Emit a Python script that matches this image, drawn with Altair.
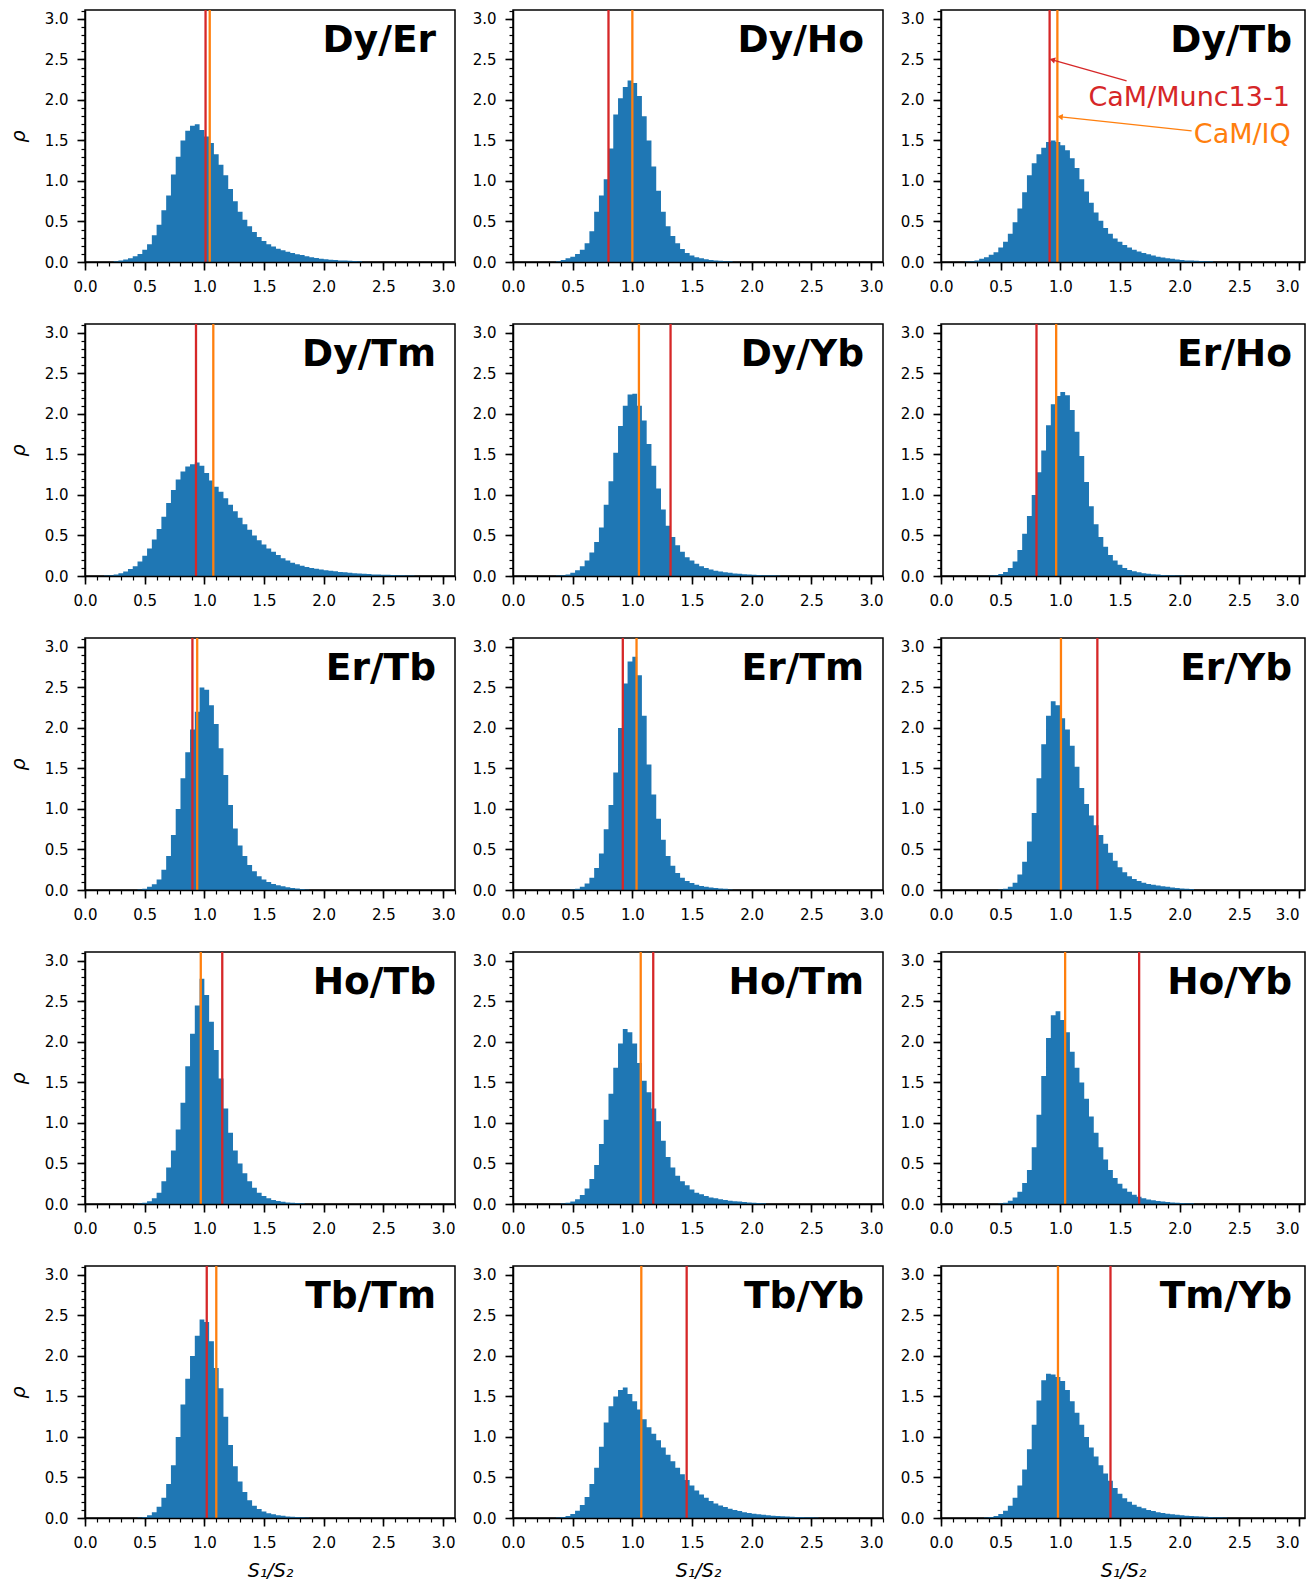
import altair as alt
import pandas as pd

# ---------------- data ----------------
BIN = 0.04
PANEL_NAMES = ["Dy/Er", "Dy/Ho", "Dy/Tb", "Dy/Tm", "Dy/Yb", "Er/Ho", "Er/Tb", "Er/Tm",
               "Er/Yb", "Ho/Tb", "Ho/Tm", "Ho/Yb", "Tb/Tm", "Tb/Yb", "Tm/Yb"]
BIN_STARTS = [0.24, 0.36, 0.20, 0.16, 0.36, 0.40, 0.44, 0.48, 0.48, 0.44, 0.40, 0.48, 0.44, 0.36, 0.36]
RED_LINE = [1.01, 0.80, 0.91, 0.93, 1.32, 0.80, 0.90, 0.92, 1.31, 1.15, 1.175, 1.66, 1.02, 1.455, 1.42]
ORANGE_LINE = [1.045, 1.00, 0.975, 1.075, 1.055, 0.965, 0.94, 1.035, 1.005, 0.97, 1.07, 1.04, 1.10, 1.075, 0.98]

dy_er = [0.01, 0.02, 0.03, 0.045, 0.07, 0.10, 0.15, 0.22, 0.33, 0.46, 0.64, 0.82, 1.08, 1.30, 1.50,
         1.62, 1.68, 1.70, 1.63, 1.55, 1.47, 1.33, 1.20, 1.07, 0.90, 0.75, 0.62, 0.52, 0.44, 0.37,
         0.31, 0.26, 0.22, 0.19, 0.165, 0.145, 0.125, 0.11, 0.095, 0.085, 0.07, 0.06, 0.05, 0.04,
         0.033, 0.028, 0.024, 0.02, 0.017, 0.014, 0.012, 0.01]
dy_ho = [0.01, 0.025, 0.045, 0.065, 0.10, 0.15, 0.23, 0.38, 0.62, 0.82, 1.02, 1.40, 1.82, 2.02,
         2.16, 2.24, 2.21, 2.05, 1.80, 1.50, 1.18, 0.88, 0.62, 0.44, 0.32, 0.23, 0.16, 0.11, 0.08,
         0.06, 0.045, 0.035, 0.025, 0.02, 0.015, 0.01, 0.008]
dy_tb = [0.005, 0.01, 0.02, 0.04, 0.06, 0.09, 0.12, 0.18, 0.25, 0.35, 0.49, 0.66, 0.86, 1.07, 1.22,
         1.33, 1.41, 1.48, 1.50, 1.48, 1.44, 1.38, 1.28, 1.16, 1.02, 0.87, 0.73, 0.61, 0.51, 0.42,
         0.35, 0.29, 0.25, 0.21, 0.18, 0.15, 0.13, 0.11, 0.095, 0.08, 0.065, 0.055, 0.045, 0.04,
         0.03, 0.025, 0.02, 0.017, 0.014, 0.012, 0.01, 0.008]
dy_tm = [0.005, 0.01, 0.02, 0.035, 0.055, 0.085, 0.12, 0.18, 0.25, 0.34, 0.45, 0.58, 0.73, 0.90,
         1.06, 1.19, 1.29, 1.35, 1.38, 1.40, 1.36, 1.27, 1.18, 1.10, 1.04, 0.96, 0.88, 0.80, 0.72,
         0.64, 0.57, 0.50, 0.44, 0.39, 0.34, 0.30, 0.26, 0.22, 0.19, 0.165, 0.145, 0.125, 0.11,
         0.10, 0.09, 0.08, 0.07, 0.065, 0.06, 0.05, 0.045, 0.04, 0.035, 0.03, 0.027, 0.024, 0.02,
         0.018, 0.016, 0.014, 0.012, 0.01, 0.008, 0.007, 0.005]
dy_yb = [0.005, 0.01, 0.02, 0.04, 0.07, 0.12, 0.19, 0.29, 0.42, 0.60, 0.88, 1.17, 1.52, 1.85, 2.10,
         2.24, 2.25, 2.10, 1.92, 1.63, 1.36, 1.08, 0.82, 0.62, 0.48, 0.38, 0.30, 0.23, 0.19, 0.15,
         0.12, 0.10, 0.08, 0.065, 0.055, 0.045, 0.04, 0.032, 0.027, 0.022, 0.018, 0.015, 0.012,
         0.01, 0.009, 0.008, 0.006]
er_ho = [0.005, 0.01, 0.025, 0.05, 0.10, 0.18, 0.32, 0.52, 0.74, 1.00, 1.28, 1.55, 1.86, 2.12,
         2.22, 2.27, 2.23, 2.05, 1.78, 1.48, 1.16, 0.86, 0.64, 0.48, 0.36, 0.26, 0.19, 0.14, 0.10,
         0.075, 0.06, 0.045, 0.035, 0.028, 0.022, 0.017, 0.013, 0.01, 0.008, 0.006, 0.005]
er_tb = [0.005, 0.015, 0.04, 0.07, 0.13, 0.25, 0.42, 0.68, 1.00, 1.38, 1.70, 1.98, 2.20, 2.50,
         2.47, 2.28, 2.05, 1.75, 1.42, 1.05, 0.76, 0.55, 0.42, 0.31, 0.23, 0.17, 0.13, 0.10, 0.075,
         0.06, 0.045, 0.035, 0.025, 0.02, 0.012, 0.006]
er_tm = [0.005, 0.015, 0.04, 0.08, 0.15, 0.27, 0.45, 0.75, 1.05, 1.45, 2.00, 2.55, 2.82, 2.88,
         2.65, 2.15, 1.55, 1.18, 0.88, 0.62, 0.42, 0.30, 0.21, 0.15, 0.11, 0.085, 0.065, 0.05,
         0.04, 0.03, 0.025, 0.02, 0.015, 0.006]
er_yb = [0.005, 0.015, 0.04, 0.09, 0.19, 0.35, 0.60, 0.95, 1.38, 1.80, 2.15, 2.33, 2.28, 2.12,
         1.98, 1.78, 1.52, 1.26, 1.06, 0.92, 0.80, 0.68, 0.57, 0.46, 0.36, 0.28, 0.22, 0.17, 0.135,
         0.11, 0.09, 0.075, 0.065, 0.055, 0.045, 0.04, 0.03, 0.025, 0.02, 0.016, 0.012]
ho_tb = [0.005, 0.015, 0.035, 0.07, 0.14, 0.28, 0.45, 0.66, 0.92, 1.25, 1.70, 2.10, 2.45, 2.78,
         2.58, 2.25, 1.90, 1.55, 1.18, 0.88, 0.66, 0.50, 0.38, 0.28, 0.20, 0.14, 0.10, 0.07, 0.05,
         0.037, 0.028, 0.02, 0.016, 0.012, 0.008]
ho_tm = [0.005, 0.015, 0.03, 0.06, 0.11, 0.19, 0.31, 0.48, 0.74, 1.04, 1.36, 1.68, 1.98, 2.16,
         2.12, 1.98, 1.74, 1.52, 1.38, 1.18, 1.02, 0.78, 0.58, 0.45, 0.35, 0.28, 0.23, 0.18, 0.14,
         0.12, 0.10, 0.08, 0.07, 0.06, 0.05, 0.04, 0.035, 0.03, 0.025, 0.02, 0.016, 0.013, 0.01]
ho_yb = [0.005, 0.015, 0.04, 0.08, 0.15, 0.26, 0.42, 0.70, 1.10, 1.58, 2.05, 2.33, 2.38, 2.27,
         2.12, 1.88, 1.68, 1.50, 1.30, 1.08, 0.88, 0.70, 0.55, 0.42, 0.32, 0.25, 0.19, 0.15, 0.115,
         0.09, 0.07, 0.055, 0.045, 0.037, 0.03, 0.025, 0.02, 0.016, 0.013, 0.01, 0.008]
tb_tm = [0.005, 0.012, 0.035, 0.07, 0.14, 0.25, 0.42, 0.65, 1.00, 1.40, 1.72, 2.00, 2.25, 2.45,
         2.42, 2.18, 1.85, 1.60, 1.25, 0.90, 0.64, 0.45, 0.32, 0.22, 0.15, 0.11, 0.08, 0.06, 0.045,
         0.035, 0.027, 0.02, 0.016, 0.012, 0.009, 0.006]
tb_yb = [0.005, 0.012, 0.025, 0.05, 0.09, 0.16, 0.26, 0.42, 0.62, 0.88, 1.18, 1.38, 1.50, 1.58,
         1.61, 1.53, 1.44, 1.34, 1.22, 1.12, 1.04, 0.96, 0.87, 0.78, 0.70, 0.62, 0.54, 0.47, 0.40,
         0.34, 0.29, 0.25, 0.21, 0.18, 0.155, 0.135, 0.115, 0.10, 0.085, 0.072, 0.062, 0.053,
         0.046, 0.04, 0.034, 0.029, 0.025, 0.021, 0.018, 0.015, 0.013, 0.011, 0.009, 0.008, 0.006]
tm_yb = [0.005, 0.012, 0.025, 0.05, 0.09, 0.15, 0.25, 0.40, 0.60, 0.85, 1.15, 1.45, 1.70, 1.78,
         1.77, 1.74, 1.69, 1.58, 1.44, 1.30, 1.15, 1.00, 0.87, 0.76, 0.65, 0.55, 0.46, 0.37, 0.30,
         0.245, 0.20, 0.165, 0.14, 0.12, 0.10, 0.085, 0.072, 0.062, 0.053, 0.046, 0.04, 0.034,
         0.029, 0.025, 0.021, 0.018, 0.015, 0.012, 0.01, 0.008, 0.006]

HISTS = [dy_er, dy_ho, dy_tb, dy_tm, dy_yb, er_ho, er_tb, er_tm, er_yb,
         ho_tb, ho_tm, ho_yb, tb_tm, tb_yb, tm_yb]

SERIES = ["CaM/Munc13-1", "CaM/IQ"]
SERIES_COLORS = ["#d62728", "#ff7f0e"]

# annotation in the Dy/Tb panel (data units)
ANN_TEXT_X = [2.923, 2.931]
ANN_TEXT_Y = [1.927, 1.473]
ANN_TAIL_X = [1.555, 2.10]
ANN_TAIL_Y = [2.236, 1.618]
ANN_TIP_X = [0.94, 1.005]
ANN_TIP_Y = [2.492, 1.791]
ANN_ANGLE = [285.7, 276.1]

X_MAJOR = [0.0, 0.5, 1.0, 1.5, 2.0, 2.5, 3.0]
Y_MAJOR = [0.0, 0.5, 1.0, 1.5, 2.0, 2.5, 3.0]
MINOR = [round(0.1 * k, 1) for k in range(32)]

FONT = "DejaVu Sans"
W, H = 370, 252
X_MAX, Y_MAX = 3.1, 3.11
W_LAST = 364  # last column is a little narrower so the page does not overflow


def make_panel(i):
    row, col = divmod(i, 3)
    w = W_LAST if col == 2 else W
    xmax = X_MAX * w / W
    vals = HISTS[i]
    start = BIN_STARTS[i]
    edges = [round(start + k * BIN, 4) for k in range(len(vals) + 1)]
    hist = pd.DataFrame({"s": edges, "rho": vals + [vals[-1]]})

    xs = alt.Scale(domain=[0, xmax], nice=False, zero=False)
    ys = alt.Scale(domain=[0, Y_MAX], nice=False, zero=False)
    color_scale = alt.Scale(domain=SERIES, range=SERIES_COLORS)

    label_align = "center"
    if col == 2:
        label_align = {"condition": {"test": "datum.value >= 2.99", "value": "right"},
                       "value": "center"}

    x_major = alt.Axis(orient="bottom", values=X_MAJOR, format=".1f", tickSize=8, tickWidth=1.6,
                       tickColor="black", labelPadding=9, labelFontSize=15, labelColor="black",
                       labelFont=FONT, labelFlush=False, labelOverlap=False, labelAlign=label_align,
                       domain=True, domainColor="black", domainWidth=1.5, grid=False, zindex=1,
                       title="S₁/S₂" if row == 4 else None, titleFont=FONT, titleFontSize=19,
                       titleFontStyle="italic", titleFontWeight="normal", titleColor="black",
                       titlePadding=11)
    y_major = alt.Axis(orient="left", values=Y_MAJOR, format=".1f", tickSize=8, tickWidth=1.6,
                       tickColor="black", labelPadding=9, labelFontSize=15, labelColor="black",
                       labelFont=FONT, labelFlush=False, labelOverlap=False,
                       domain=True, domainColor="black", domainWidth=1.5, grid=False, zindex=1,
                       title="ρ" if col == 0 else None, titleFont=FONT, titleFontSize=19,
                       titleFontStyle="italic", titleFontWeight="normal", titleColor="black",
                       titlePadding=16)
    x_minor = alt.Axis(orient="bottom", values=[v for v in MINOR if v <= xmax], tickSize=4,
                       tickWidth=1.2, tickColor="black", labels=False, domain=False, grid=False,
                       title=None)
    y_minor = alt.Axis(orient="left", values=MINOR, tickSize=4, tickWidth=1.2, tickColor="black",
                       labels=False, domain=False, grid=False, title=None)

    area = alt.Chart(hist).mark_area(interpolate="step-after", color="#1f77b4").encode(
        x=alt.X("s:Q", scale=xs, axis=x_major),
        y=alt.Y("rho:Q", scale=ys, axis=y_major, stack=None),
    )
    minor = alt.Chart(hist).mark_point(opacity=0).encode(
        x=alt.X("s:Q", scale=xs, axis=x_minor),
        y=alt.Y("rho:Q", scale=ys, axis=y_minor),
    )
    lines = pd.DataFrame({"v": [RED_LINE[i], ORANGE_LINE[i]], "c": SERIES})
    rules = alt.Chart(lines).mark_rule(strokeWidth=2.3).encode(
        x=alt.X("v:Q", scale=xs, axis=None),
        color=alt.Color("c:N", scale=color_scale, legend=None),
    )
    title = alt.Chart(pd.DataFrame({"t": [PANEL_NAMES[i]]})).mark_text(
        align="right", baseline="alphabetic", fontSize=37.5, fontWeight="bold", font=FONT,
        color="black"
    ).encode(x=alt.value(351), y=alt.value(42), text="t:N")

    layers = [area, minor, rules, title]

    if i == 2:
        ann = pd.DataFrame({
            "c": SERIES, "tx": ANN_TEXT_X, "ty": ANN_TEXT_Y,
            "x0": ANN_TAIL_X, "y0": ANN_TAIL_Y, "x1": ANN_TIP_X, "y1": ANN_TIP_Y,
            "ang": ANN_ANGLE,
        })
        arrow = alt.Chart(ann).mark_rule(strokeWidth=1.3).encode(
            x=alt.X("x0:Q", scale=xs, axis=None), y=alt.Y("y0:Q", scale=ys, axis=None),
            x2="x1:Q", y2="y1:Q",
            color=alt.Color("c:N", scale=color_scale, legend=None),
        )
        head = alt.Chart(ann).mark_point(shape="triangle", filled=True, size=40, opacity=1).encode(
            x=alt.X("x1:Q", scale=xs, axis=None), y=alt.Y("y1:Q", scale=ys, axis=None),
            angle=alt.Angle("ang:Q", scale=None),
            color=alt.Color("c:N", scale=color_scale, legend=None),
        )
        label = alt.Chart(ann).mark_text(
            align="right", baseline="alphabetic", fontSize=27, font=FONT
        ).encode(
            x=alt.X("tx:Q", scale=xs, axis=None), y=alt.Y("ty:Q", scale=ys, axis=None),
            text="c:N",
            color=alt.Color("c:N", scale=color_scale, legend=None),
        )
        layers += [arrow, head, label]

    return alt.layer(*layers).resolve_axis(x="independent", y="independent").properties(
        width=w, height=H
    )


panels = [make_panel(i) for i in range(len(PANEL_NAMES))]

chart = alt.concat(*panels, columns=3).properties(
    spacing=alt.RowColnumber(row=62, column=58),
    bounds="flush",
    padding={"left": 0, "top": 0, "right": 0, "bottom": 0},
    background="white",
).configure_view(stroke="black", strokeWidth=1.5)

chart.save("out.html", embed_options={"renderer": "svg", "actions": False})
